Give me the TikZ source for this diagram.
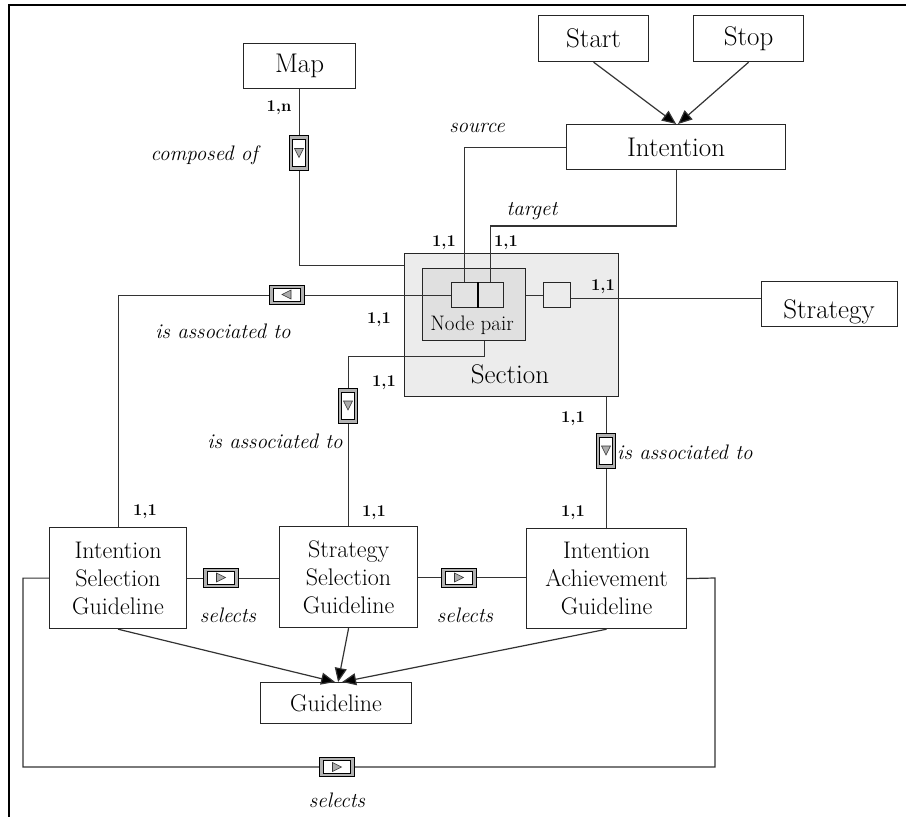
\documentclass[tikz,border=0pt]{standalone}
\usetikzlibrary{arrows.meta,calc}
\begin{document}
\begin{tikzpicture}[x=1pt,y=-1pt,
  box/.style={draw=black!85, line width=1.2pt, fill=white, inner sep=0pt, anchor=north west, font=\fontsize{27}{30}\selectfont},
  gbox/.style={box, align=center, font=\fontsize{24}{28}\selectfont},
  conn/.style={draw=black!80, line width=1.2pt},
  arr/.style={conn, -{Triangle[length=14pt,width=12pt,fill=black]}},
  card/.style={font=\bfseries\fontsize{16.5}{18}\selectfont, inner sep=0pt},
  role/.style={font=\itshape\fontsize{21}{23}\selectfont, inner sep=0pt},
  txt/.style={inner sep=0pt},
  vmark/.pic={
    \path[draw=black, fill=gray!60, line width=0.8pt] (-9.5,-17.5) rectangle (9.5,17.5);
    \path[draw=black, fill=white, line width=0.8pt] (-6.5,-13.5) rectangle (6.5,13.5);
    \path[draw=black!80, fill=gray!65, line width=0.6pt] (-4.5,-4.5) -- (4.5,-4.5) -- (0,4.5) -- cycle;
  }
]
\useasboundingbox (0,0) rectangle (906,817);
\draw[line width=2pt] (9,817) -- (9,5) -- (906,5);

% boxes
\node[box, minimum width=112, minimum height=45] (map) at (243,43) {Map};
\node[box, minimum width=110, minimum height=46] (start) at (538,15) {Start};
\node[box, minimum width=110, minimum height=46] (stop) at (693,15) {Stop};
\node[box, minimum width=219, minimum height=45] (int) at (566,124) {Intention};
\node[box, minimum width=136, minimum height=45] (strat) at (761,281) {};
\node[txt, anchor=base, font=\fontsize{27}{30}\selectfont] (stratT) at (829,318) {Strategy};
\node[box, fill=gray!15, minimum width=214, minimum height=143] (sec) at (404,253) {};
\node[box, fill=gray!24, minimum width=103, minimum height=72] (np) at (422,268) {};
\node[box, fill=gray!22, minimum width=26, minimum height=25] (npL) at (451,282) {};
\node[box, fill=gray!22, minimum width=26, minimum height=25] (npR) at (477,282) {};
\draw[line width=2.5pt] (npL.north east) -- (npL.south east);
\node[box, fill=gray!15, minimum width=27, minimum height=25] (sb) at (543,282) {};
\node[txt, font=\fontsize{21}{23}\selectfont] (npT) at (472,325) {Node pair};
\node[txt, font=\fontsize{27}{30}\selectfont] (secT) at (510,374) {Section};

\node[gbox, minimum width=137, minimum height=101] (isg) at (49,527) {Intention\\Selection\\Guideline};
\node[gbox, minimum width=138, minimum height=101] (ssg) at (279,526) {Strategy\\Selection\\Guideline};
\node[gbox, minimum width=160, minimum height=100] (iag) at (526,528) {Intention\\Achievement\\Guideline};
\node[gbox, minimum width=151, minimum height=41] (gl) at (260,682) {Guideline};

% connectors
\draw[conn] (map.south) |- (sec.west |- 0,265.5);
\draw[conn] (int.west) -| (npL.north);
\draw[conn] (int.south) -- (int.south |- 0,226) -| (npR.north);
\draw[conn] (npL.west) -| (isg.north);
\draw[conn] (np.east |- sb.west) -- (sb.west);
\draw[conn] (sb.east |- 0,298.5) -- (strat.west |- 0,298.5);
\draw[conn] ($(np.south)+(10,0)$) -- ++(0,15) -| (ssg.north);
\draw[conn] (sec.south -| iag.north) -- (iag.north);
\draw[conn] (isg.east) -- (isg.east -| ssg.west);
\draw[conn] (ssg.east) -- (ssg.east -| iag.west);
\coordinate (la) at (23,767);
\coordinate (lb) at (715,578);
\draw[conn] (isg.west) -| (la) -| (lb) -- (iag.east);

\draw[arr] (start.south) -- (int.north);
\draw[arr] (stop.south) -- ([xshift=2pt]int.north);
\draw[arr] (isg.south) -- ([xshift=-1pt]gl.north);
\draw[arr] (ssg.south) -- ([xshift=2pt]gl.north);
\draw[arr] (iag.south) -- ([xshift=6pt]gl.north);

% markers
\pic at (299,153) {vmark};
\pic[rotate=-90] at (286.5,294.5) {vmark};
\pic at (348,405.5) {vmark};
\pic at (606,450.5) {vmark};
\pic[rotate=90] at (221,577.5) {vmark};
\pic[rotate=90] at (459,577.5) {vmark};
\pic[rotate=90] at (337,767) {vmark};

% labels
\node[role, anchor=east] (lcomp) at (258,155) {composed of};
\node[role] (lsrc) at (477,128) {source};
\node[role] (ltgt) at (532,211) {target};
\node[card] (c1n) at (279,108) {1,n};
\node[role] (la1) at (223,331) {is associated to};
\node[role] (la2) at (275,441) {is associated to};
\node[role, anchor=west] (la3) at (617,452) {is associated to};
\node[role] (ls1) at (228,615) {selects};
\node[role] (ls2) at (465,615) {selects};
\node[role] (ls3) at (337,800) {selects};
\node[card] (k1) at (444,243) {1,1};
\node[card] (k2) at (506,243) {1,1};
\node[card] (k3) at (379,320) {1,1};
\node[card] (k4) at (603,287) {1,1};
\node[card] (k5) at (384,383) {1,1};
\node[card] (k6) at (573,419) {1,1};
\node[card] (k7) at (145,512) {1,1};
\node[card] (k8) at (374,513) {1,1};
\node[card] (k9) at (573,513) {1,1};
\end{tikzpicture}
\end{document}
